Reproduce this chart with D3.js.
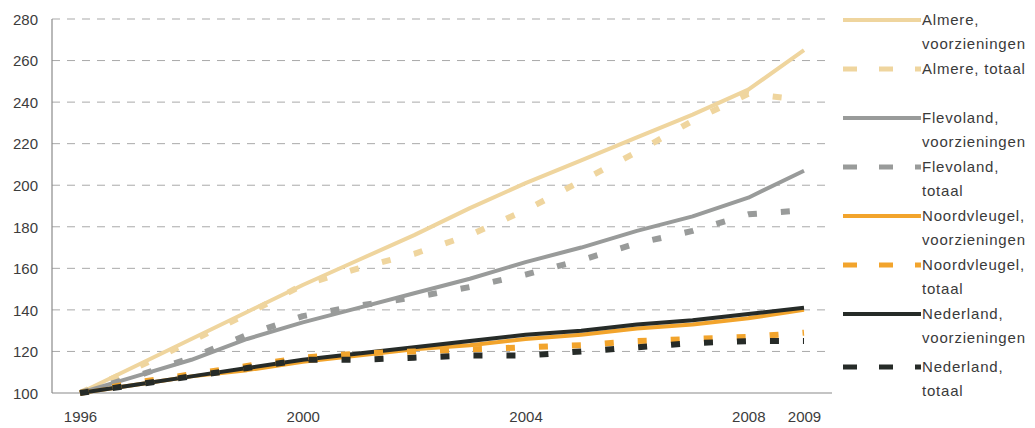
<!DOCTYPE html>
<html><head><meta charset="utf-8">
<script src="https://cdn.jsdelivr.net/npm/d3@7"></script>
<style>
body{margin:0;background:#fff;}
svg{display:block;}
text{font-family:"Liberation Sans",Arial,sans-serif;}
</style></head>
<body><svg id="c" width="1035" height="428"></svg>
<script>
const years = [1996,1997,1998,1999,2000,2001,2002,2003,2004,2005,2006,2007,2008,2009];
const xTickYears = [1996,2000,2004,2008,2009];
const yTicks = [100,120,140,160,180,200,220,240,260,280];

const almereVoorz   = [100,113,126,139,152,164,176,189,201,212,223,234,246,265];
const almereTot     = [100,112,125,138,152,160,167,176,188,202,216,231,244,241];
const flevoVoorz    = [100,108,116,126,134,141,148,155,163,170,178,185,194,207];
const flevoTot      = [100,108,117,128,137,142,146,151,157,164,172,178,186,188];
const noordVoorz    = [100,104,108,111,115,118,121,123,126,128,131,133,136,140];
const noordTot      = [100,105,109,113,117,119,120,121,122,123,125,126,127,129];
const nedVoorz      = [100,104,108,112,116,119,122,125,128,130,133,135,138,141];
const nedTot        = [100,104,108,112,116,116,117,118,118,120,122,124,125,125];

const seriesNames = [
  ["Almere,","voorzieningen"],["Almere, totaal"],
  ["Flevoland,","voorzieningen"],["Flevoland,","totaal"],
  ["Noordvleugel,","voorzieningen"],["Noordvleugel,","totaal"],
  ["Nederland,","voorzieningen"],["Nederland,","totaal"]
];

const C_ALM = "#efd59e", C_FLE = "#999b9a", C_NOO = "#f2a42c", C_NED = "#262b28";
const series = [
  {v: almereVoorz, c: C_ALM, dash: false, n: seriesNames[0]},
  {v: almereTot,   c: C_ALM, dash: true,  n: seriesNames[1]},
  {v: flevoVoorz,  c: C_FLE, dash: false, n: seriesNames[2]},
  {v: flevoTot,    c: C_FLE, dash: true,  n: seriesNames[3]},
  {v: noordVoorz,  c: C_NOO, dash: false, n: seriesNames[4]},
  {v: noordTot,    c: C_NOO, dash: true,  n: seriesNames[5]},
  {v: nedVoorz,    c: C_NED, dash: false, n: seriesNames[6]},
  {v: nedTot,      c: C_NED, dash: true,  n: seriesNames[7]}
];

const svg = d3.select("#c");
const x = d3.scaleLinear().domain([1996,2009]).range([80,804]);
const y = d3.scaleLinear().domain([100,280]).range([393,19]);
const axisLeft = 52, axisRight = 832;

// gridlines
svg.append("g").selectAll("line").data(yTicks.filter(d=>d>100)).join("line")
  .attr("x1",axisLeft).attr("x2",axisRight)
  .attr("y1",d=>y(d)).attr("y2",d=>y(d))
  .attr("stroke","#a9a9a9").attr("stroke-width",1).attr("stroke-dasharray","8,7");

// axes
svg.append("line").attr("x1",axisLeft).attr("x2",axisLeft).attr("y1",y(280)).attr("y2",y(100))
  .attr("stroke","#8a8a8a").attr("stroke-width",1.2);
svg.append("line").attr("x1",axisLeft).attr("x2",axisRight).attr("y1",y(100)).attr("y2",y(100))
  .attr("stroke","#8a8a8a").attr("stroke-width",1.2);

const yAxis = d3.axisLeft(y).tickValues(yTicks).tickSize(0).tickPadding(0);
const gy = svg.append("g").attr("transform","translate(38,0)").call(yAxis);
gy.select(".domain").remove();
gy.selectAll("text").attr("font-size",15).attr("fill","#3c3c3c").attr("dy","0.35em")
  .style("font-family","'Liberation Sans',Arial,sans-serif");

const xAxis = d3.axisBottom(x).tickValues(xTickYears).tickFormat(d3.format("d")).tickSize(0).tickPadding(0);
const gx = svg.append("g").attr("transform","translate(0,411)").call(xAxis);
gx.select(".domain").remove();
gx.selectAll("text").attr("font-size",15).attr("fill","#3c3c3c").attr("dy","0.71em")
  .style("font-family","'Liberation Sans',Arial,sans-serif");

const line = d3.line().x((d,i)=>x(years[i])).y(d=>y(d));
const order = [0,1,2,3,4,6,5,7];
svg.append("g").selectAll("path").data(order.map(i=>series[i])).join("path")
  .attr("d",d=>line(d.v)).attr("fill","none")
  .attr("stroke",d=>d.c)
  .attr("stroke-width",d=>d.dash?6:4)
  .attr("stroke-dasharray",d=>d.dash?"9,24":null)
  .attr("stroke-linejoin","round");

// legend
const lg = svg.append("g");
series.forEach((s,i)=>{
  const ly = 20 + i*49 + (i===7?4:0);
  lg.append("line").attr("x1",843).attr("x2",921).attr("y1",ly).attr("y2",ly)
    .attr("stroke",s.c).attr("stroke-width",s.dash?5:4)
    .attr("stroke-dasharray",s.dash?"14,22":null);
  s.n.forEach((t,j)=>{
    lg.append("text").attr("x",922).attr("y",ly+5+j*23.5).text(t)
      .attr("font-size",15).attr("fill","#3a3a3a").attr("letter-spacing","0.8px");
  });
});
</script></body></html>
